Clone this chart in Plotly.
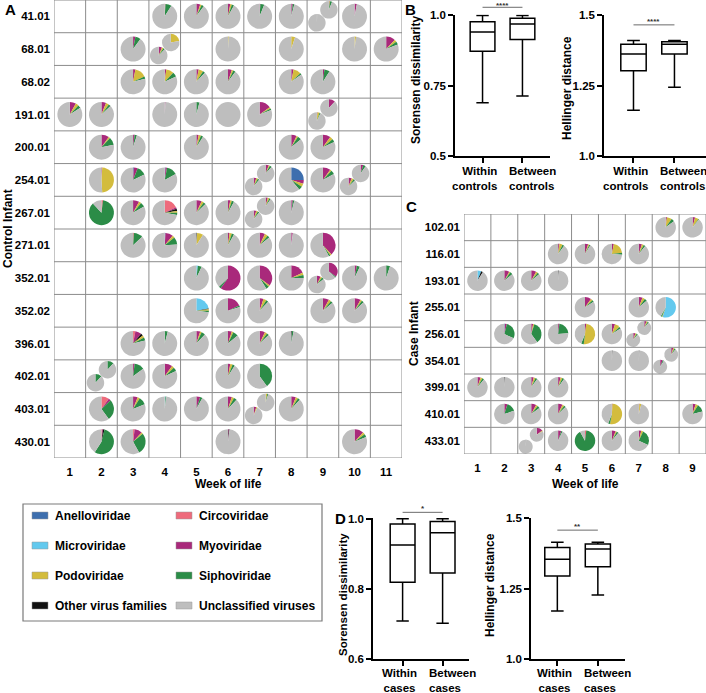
import plotly.graph_objects as go

W, H = 706, 693
FONT = "Liberation Sans, Arial, sans-serif"

# slice order inside every pie (clockwise from 12 o'clock)
FAMILIES = ["Anelloviridae", "Circoviridae", "Microviridae", "Myoviridae",
            "Other virus families", "Podoviridae", "Siphoviridae", "Unclassified viruses"]
FAMILY_KEYS = ["an", "ci", "mi", "my", "ot", "po", "si"]
FAMILY_COLORS = {
    "Anelloviridae": "#3e6fae",
    "Circoviridae": "#ee6b7c",
    "Microviridae": "#63c9ee",
    "Myoviridae": "#a9297b",
    "Other virus families": "#111111",
    "Podoviridae": "#d3bc3d",
    "Siphoviridae": "#2b8c47",
    "Unclassified viruses": "#bebebe",
}
LEGEND_ORDER = ["Anelloviridae", "Circoviridae", "Microviridae", "Myoviridae",
                "Podoviridae", "Siphoviridae", "Other virus families", "Unclassified viruses"]

control_infants = ["41.01", "68.01", "68.02", "191.01", "200.01", "254.01", "267.01",
                   "271.01", "352.01", "352.02", "396.01", "402.01", "403.01", "430.01"]
control_weeks = [1, 2, 3, 4, 5, 6, 7, 8, 9, 10, 11]
case_infants = ["102.01", "116.01", "193.01", "255.01", "256.01", "354.01",
                "399.01", "410.01", "433.01"]
case_weeks = [1, 2, 3, 4, 5, 6, 7, 8, 9]

# (infant, week, slot, % per family); the rest is unclassified
# slot: full = one sample, upper / lower = two samples in the same week
control_samples = [
    ("41.01", 4, "full", {"ci": 1, "si": 8}),
    ("41.01", 5, "full", {"my": 5, "po": 2, "si": 3}),
    ("41.01", 6, "full", {"my": 3, "po": 2, "si": 3}),
    ("41.01", 7, "full", {"my": 1, "si": 5}),
    ("41.01", 8, "full", {"my": 2, "si": 2}),
    ("41.01", 9, "upper", {"my": 1, "po": 1, "si": 4}),
    ("41.01", 9, "lower", {"ot": 0.5}),
    ("41.01", 10, "full", {"my": 3}),
    ("68.01", 3, "full", {"my": 3, "si": 7}),
    ("68.01", 4, "upper", {"po": 22}),
    ("68.01", 4, "lower", {"my": 6, "po": 3, "si": 3}),
    ("68.01", 6, "full", {"po": 1}),
    ("68.01", 8, "full", {"po": 5}),
    ("68.01", 10, "full", {"po": 2}),
    ("68.01", 11, "full", {"my": 12, "po": 3, "si": 4}),
    ("68.02", 3, "full", {"my": 3, "po": 15, "si": 3}),
    ("68.02", 4, "full", {"my": 2, "po": 10, "si": 6}),
    ("68.02", 5, "full", {"my": 3, "po": 6, "si": 3}),
    ("68.02", 6, "full", {"my": 5, "po": 2, "si": 3}),
    ("68.02", 8, "full", {"my": 3, "po": 10, "si": 2}),
    ("68.02", 9, "full", {"my": 2, "si": 7}),
    ("191.01", 1, "full", {"my": 8, "po": 4, "si": 4}),
    ("191.01", 2, "full", {"my": 6, "po": 4, "si": 3}),
    ("191.01", 4, "full", {"my": 1}),
    ("191.01", 5, "full", {"si": 4}),
    ("191.01", 6, "full", {}),
    ("191.01", 7, "full", {"my": 15, "po": 2, "si": 2}),
    ("191.01", 9, "upper", {"my": 12}),
    ("191.01", 9, "lower", {"my": 1, "po": 4, "si": 2}),
    ("200.01", 2, "full", {"my": 10, "po": 2, "si": 10}),
    ("200.01", 3, "full", {"my": 2, "si": 3}),
    ("200.01", 5, "full", {"my": 3, "po": 3, "si": 3}),
    ("200.01", 8, "full", {"my": 7, "po": 2, "si": 5}),
    ("200.01", 9, "full", {"my": 10, "po": 4, "si": 4}),
    ("254.01", 2, "full", {"my": 1, "po": 48}),
    ("254.01", 3, "full", {"an": 1, "my": 5, "si": 12}),
    ("254.01", 4, "full", {"an": 1, "my": 2, "si": 14}),
    ("254.01", 7, "upper", {"my": 6, "po": 2, "si": 4}),
    ("254.01", 7, "lower", {"my": 5, "po": 3, "si": 3}),
    ("254.01", 8, "full", {"an": 25, "my": 5, "po": 4, "si": 5}),
    ("254.01", 9, "full", {"my": 10, "po": 2, "si": 5}),
    ("254.01", 10, "upper", {"my": 5, "si": 5}),
    ("254.01", 10, "lower", {"my": 6, "po": 4, "si": 3}),
    ("267.01", 2, "full", {"ci": 2, "si": 86}),
    ("267.01", 3, "full", {"my": 8, "po": 3, "si": 6}),
    ("267.01", 4, "full", {"ci": 18, "my": 2, "ot": 3, "po": 2, "si": 3}),
    ("267.01", 5, "full", {"my": 7, "po": 3, "si": 3}),
    ("267.01", 6, "full", {"my": 3, "po": 2, "si": 3}),
    ("267.01", 7, "upper", {"my": 4, "po": 3, "si": 3}),
    ("267.01", 7, "lower", {"my": 5, "po": 3, "si": 3}),
    ("267.01", 8, "full", {"my": 2, "si": 2}),
    ("271.01", 3, "full", {"ci": 1, "si": 12}),
    ("271.01", 4, "full", {"an": 1, "my": 10, "po": 3, "si": 10}),
    ("271.01", 5, "full", {"ot": 1, "po": 8}),
    ("271.01", 6, "full", {"my": 2, "po": 3, "si": 3}),
    ("271.01", 7, "full", {"my": 7, "po": 4, "si": 3}),
    ("271.01", 8, "full", {"my": 2}),
    ("271.01", 9, "full", {"my": 38, "po": 2, "si": 2}),
    ("352.01", 5, "full", {"mi": 2, "si": 5}),
    ("352.01", 6, "full", {"my": 60, "si": 3}),
    ("352.01", 7, "full", {"my": 35, "po": 2, "si": 4}),
    ("352.01", 8, "full", {"my": 18, "po": 3, "si": 4}),
    ("352.01", 9, "upper", {"my": 35, "si": 2}),
    ("352.01", 9, "lower", {"my": 7, "po": 3, "si": 4}),
    ("352.01", 10, "full", {"my": 3, "si": 4}),
    ("352.01", 11, "full", {"si": 5}),
    ("352.02", 5, "full", {"mi": 22, "ot": 1, "po": 2, "si": 2}),
    ("352.02", 6, "full", {"my": 18, "si": 2}),
    ("352.02", 7, "full", {"my": 5, "po": 4, "si": 3}),
    ("352.02", 9, "full", {"my": 8, "po": 3, "si": 3}),
    ("352.02", 10, "full", {"my": 8, "po": 2, "si": 3}),
    ("396.01", 3, "full", {"ci": 3, "my": 8, "ot": 3, "po": 3, "si": 4}),
    ("396.01", 4, "full", {"si": 4}),
    ("396.01", 5, "full", {"my": 5, "po": 2, "si": 5}),
    ("396.01", 6, "full", {"my": 5, "po": 2, "si": 7}),
    ("396.01", 7, "full", {"my": 7, "po": 3, "si": 3}),
    ("396.01", 8, "full", {"ot": 1, "si": 2}),
    ("402.01", 2, "upper", {"si": 12}),
    ("402.01", 2, "lower", {"si": 12}),
    ("402.01", 3, "full", {"my": 2, "si": 13}),
    ("402.01", 4, "full", {"my": 10, "po": 3, "si": 5}),
    ("402.01", 6, "full", {"my": 3, "po": 3, "si": 3}),
    ("402.01", 7, "full", {"si": 40}),
    ("403.01", 2, "full", {"ci": 10, "my": 3, "si": 27}),
    ("403.01", 3, "full", {"my": 6, "po": 3, "si": 10}),
    ("403.01", 4, "full", {"mi": 1, "si": 1}),
    ("403.01", 5, "full", {"my": 5, "si": 3}),
    ("403.01", 6, "full", {"my": 5, "po": 3, "si": 4}),
    ("403.01", 7, "upper", {"po": 3, "si": 2}),
    ("403.01", 7, "lower", {"my": 5, "po": 2}),
    ("403.01", 8, "full", {"my": 6, "po": 3, "si": 3}),
    ("430.01", 2, "full", {"ci": 1, "my": 1, "ot": 2, "si": 55}),
    ("430.01", 3, "full", {"ci": 2, "my": 10, "po": 2, "si": 28}),
    ("430.01", 6, "full", {"my": 1, "ot": 1}),
    ("430.01", 10, "full", {"my": 12, "po": 3, "si": 4}),
]

case_samples = [
    ("102.01", 8, "full", {"my": 2, "po": 8, "si": 5}),
    ("102.01", 9, "full", {"my": 4, "po": 6, "si": 1}),
    ("116.01", 4, "full", {"my": 2, "po": 5, "si": 3}),
    ("116.01", 5, "full", {"my": 5, "po": 2, "si": 2}),
    ("116.01", 6, "full", {"my": 3, "po": 20, "si": 3}),
    ("116.01", 7, "full", {"my": 5, "po": 3, "si": 3}),
    ("193.01", 1, "full", {"mi": 6, "ot": 3}),
    ("193.01", 2, "full", {"my": 8, "po": 2, "si": 4}),
    ("193.01", 3, "full", {"my": 8, "po": 3, "si": 3}),
    ("193.01", 4, "full", {"ot": 1}),
    ("255.01", 5, "full", {"my": 10, "po": 3, "si": 3}),
    ("255.01", 7, "full", {"my": 6, "po": 4, "si": 4}),
    ("255.01", 8, "full", {"mi": 55, "po": 1, "si": 2}),
    ("256.01", 2, "full", {"an": 1, "my": 3, "si": 28}),
    ("256.01", 3, "full", {"my": 3, "po": 2, "si": 35}),
    ("256.01", 4, "full", {"my": 2, "si": 22}),
    ("256.01", 5, "full", {"my": 2, "po": 50, "si": 4}),
    ("256.01", 6, "full", {"my": 5, "po": 8, "si": 3}),
    ("256.01", 7, "upper", {"my": 5, "po": 3, "si": 3}),
    ("256.01", 7, "lower", {"my": 5, "po": 3, "si": 3}),
    ("354.01", 6, "full", {"ot": 1}),
    ("354.01", 7, "full", {"ot": 1}),
    ("354.01", 8, "upper", {"my": 5, "po": 3, "si": 3}),
    ("354.01", 8, "lower", {"my": 6, "si": 3}),
    ("399.01", 1, "full", {"my": 5, "po": 3, "si": 3}),
    ("399.01", 2, "full", {"ot": 1}),
    ("399.01", 3, "full", {"my": 4, "po": 3, "si": 3}),
    ("399.01", 4, "full", {"my": 4, "po": 3, "si": 3}),
    ("410.01", 2, "full", {"my": 5, "si": 15}),
    ("410.01", 3, "full", {"my": 8, "po": 3, "si": 4}),
    ("410.01", 4, "full", {"my": 7, "po": 3, "si": 3}),
    ("410.01", 6, "full", {"my": 1, "si": 3, "po": 52}),
    ("410.01", 7, "full", {"my": 1, "po": 3}),
    ("410.01", 9, "full", {"my": 5, "po": 4, "si": 12}),
    ("433.01", 3, "upper", {"my": 15, "po": 2}),
    ("433.01", 3, "lower", {"ot": 1}),
    ("433.01", 4, "full", {"my": 5, "si": 2}),
    ("433.01", 5, "full", {"ci": 2, "si": 90}),
    ("433.01", 6, "full", {"my": 6, "po": 2, "si": 3}),
    ("433.01", 7, "full", {"my": 4, "po": 3, "si": 25}),
]

# box plot summaries: lower whisker, Q1, median, Q3, upper whisker
control_groups = ["Within<br>controls", "Between<br>controls"]
case_groups = ["Within<br>cases", "Between<br>cases"]
sorensen_controls_within = [0.689, 0.873, 0.941, 0.978, 1.0]
sorensen_controls_between = [0.713, 0.914, 0.970, 0.990, 1.0]
hellinger_controls_within = [1.162, 1.302, 1.362, 1.396, 1.410]
hellinger_controls_between = [1.244, 1.362, 1.396, 1.405, 1.410]
sorensen_cases_within = [0.708, 0.819, 0.925, 0.985, 1.0]
sorensen_cases_between = [0.702, 0.845, 0.960, 0.992, 1.0]
hellinger_cases_within = [1.170, 1.294, 1.354, 1.395, 1.414]
hellinger_cases_between = [1.227, 1.327, 1.390, 1.408, 1.414]
significance = ["****", "****", "*", "**"]


def px(x):
    return x / W


def py(y):
    return 1 - y / H


fig = go.Figure()
shapes = []
annotations = []


def pie_grid(samples, infants, weeks, xa, ya, box_px, d_full, d_small, off):
    x0, x1, y0, y1 = box_px
    cw = (x1 - x0) / len(weeks)
    ch = (y1 - y0) / len(infants)
    for infant, week, slot, shares in samples:
        row = infants.index(infant)
        cx = x0 + (week - 0.5) * cw
        cy = y0 + (row + 0.5) * ch
        d = d_full
        if slot == "upper":
            d = d_small
            cx, cy = cx + off[0], cy - off[1]
        elif slot == "lower":
            d = d_small
            cx, cy = cx - off[0], cy + off[1]
        vals = [shares.get(k, 0) for k in FAMILY_KEYS]
        vals.append(100 - sum(vals))
        fig.add_trace(go.Pie(
            labels=FAMILIES, values=vals, sort=False, direction="clockwise",
            rotation=0, textinfo="none", showlegend=False,
            marker=dict(colors=[FAMILY_COLORS[f] for f in FAMILIES], line=dict(width=0)),
            domain=dict(x=[px(cx - d / 2), px(cx + d / 2)], y=[py(cy + d / 2), py(cy - d / 2)]),
            hovertemplate=infant + ", week " + str(week) + "<br>%{label}: %{percent}<extra></extra>",
        ))
    # cell borders
    for i in range(len(weeks) + 1):
        shapes.append(dict(type="line", xref=xa, yref=ya, x0=i + 0.5, x1=i + 0.5,
                           y0=-0.5, y1=len(infants) - 0.5, line=dict(color="#8c8c8c", width=1)))
    for j in range(len(infants) + 1):
        shapes.append(dict(type="line", xref=xa, yref=ya, x0=0.5, x1=len(weeks) + 0.5,
                           y0=j - 0.5, y1=j - 0.5, line=dict(color="#8c8c8c", width=1)))


grid_axis = dict(showgrid=False, zeroline=False, showline=False, ticks="", automargin=False,
                 tickfont=dict(size=11.5, color="black", family=FONT, weight="bold"))

# panel A
A_px = (54, 402, 0, 458)
pie_grid(control_samples, control_infants, control_weeks, "x", "y", A_px, 25, 17.5, (6, 6.5))
# panel C
C_px = (464, 706, 214, 454)
pie_grid(case_samples, case_infants, case_weeks, "x2", "y2", C_px, 20.5, 14, (5.5, 6))

layout_axes = {}
for n, (box, infants, weeks) in enumerate([(A_px, control_infants, control_weeks),
                                           (C_px, case_infants, case_weeks)], start=1):
    sfx = "" if n == 1 else str(n)
    layout_axes["xaxis" + sfx] = dict(
        grid_axis, domain=[px(box[0]), px(box[1])], range=[0.5, len(weeks) + 0.5],
        tickvals=weeks, ticktext=[str(w) for w in weeks], ticklabelstandoff=5,
        anchor="y" + sfx)
    layout_axes["yaxis" + sfx] = dict(
        grid_axis, domain=[py(box[3]), py(box[2])], range=[len(infants) - 0.5, -0.5],
        tickvals=list(range(len(infants))), ticktext=infants, ticklabelstandoff=3,
        anchor="x" + sfx)


def box_panel(n, groups, within, between, x_px, y_px, yrange, ytickvals, yticktext,
              xrange, sig_label, sig_val, star_val, label_y, first_align):
    xa, ya = "x" + str(n), "y" + str(n)
    fig.add_trace(go.Box(
        x=groups, lowerfence=[within[0], between[0]], q1=[within[1], between[1]],
        median=[within[2], between[2]], q3=[within[3], between[3]],
        upperfence=[within[4], between[4]], boxpoints=False, width=0.62,
        whiskerwidth=0.5, fillcolor="white", line=dict(color="black", width=1.5),
        showlegend=False, xaxis=xa, yaxis=ya, hoverinfo="y"))
    common = dict(showgrid=False, zeroline=False, showline=True, linecolor="black",
                  linewidth=1.5, ticks="outside", ticklen=5, tickwidth=1.5,
                  tickcolor="black", automargin=False,
                  tickfont=dict(size=11.5, color="black", family=FONT, weight="bold"))
    layout_axes["xaxis" + str(n)] = dict(common, domain=[px(x_px[0]), px(x_px[1])],
                                         anchor=ya, type="category", range=xrange,
                                         showticklabels=False)
    layout_axes["yaxis" + str(n)] = dict(common, domain=[py(y_px[1]), py(y_px[0])],
                                         anchor=xa, range=yrange, tickvals=ytickvals,
                                         ticktext=yticktext)
    # group names sit either side of the midpoint between the two boxes
    for g, anchor, align, shift in [(groups[0], "right", first_align, -4),
                                    (groups[1], "left", "left", 4)]:
        annotations.append(dict(text=g, xref=xa, yref="paper", x=0.5, y=py(label_y),
                                xshift=shift, xanchor=anchor, align=align, yanchor="middle",
                                showarrow=False,
                                font=dict(size=11.5, color="black", family=FONT,
                                          weight="bold")))
    span = yrange[1] - yrange[0]
    shapes.append(dict(type="line", xref=xa, yref=ya + " domain", x0=0, x1=1,
                       y0=(sig_val - yrange[0]) / span, y1=(sig_val - yrange[0]) / span,
                       line=dict(color="#6b6b6b", width=1)))
    annotations.append(dict(text=sig_label, xref=xa, yref=ya + " domain", x=0.5,
                            y=(star_val - yrange[0]) / span, showarrow=False,
                            yanchor="middle", font=dict(size=8, color="#333333")))


box_panel(3, control_groups, sorensen_controls_within, sorensen_controls_between,
          (455, 550), (14.6, 156), [0.5, 1.003], [0.5, 0.75, 1.0], ["0.5", "0.75", "1.0"],
          [-0.69, 1.69], significance[0], 1.029, 1.036, 178.5, "right")
box_panel(4, control_groups, hellinger_controls_within, hellinger_controls_between,
          (604, 706), (15, 156), [1.0, 1.5], [1.0, 1.25, 1.5], ["1.0", "1.25", "1.5"],
          [-0.72, 1.77], significance[1], 1.465, 1.476, 178.5, "right")
box_panel(5, case_groups, sorensen_cases_within, sorensen_cases_between,
          (373, 469), (517.6, 659), [0.6, 1.003], [0.6, 0.8, 1.0], ["0.6", "0.8", "1.0"],
          [-0.74, 1.66], significance[2], 1.018, 1.029, 680.5, "center")
box_panel(6, case_groups, hellinger_cases_within, hellinger_cases_between,
          (531, 625), (518, 659), [1.0, 1.5], [1.0, 1.25, 1.5], ["1.0", "1.25", "1.5"],
          [-0.65, 1.67], significance[3], 1.457, 1.471, 680.5, "center")


def label(text, x, y, size=12, angle=0, xanchor="center"):
    annotations.append(dict(text=text, xref="paper", yref="paper", x=px(x), y=py(y),
                            showarrow=False, textangle=angle, xanchor=xanchor,
                            yanchor="middle",
                            font=dict(size=size, color="black", family=FONT, weight="bold")))


label("A", 3, 9, 15, xanchor="left")
label("B", 403, 9, 15, xanchor="left")
label("C", 404, 206, 15, xanchor="left")
label("D", 333, 518, 15, xanchor="left")
label("Control Infant", 8, 229, 12, -90)
label("Case Infant", 414, 334, 12, -90)
label("Week of life", 228, 484)
label("Week of life", 585, 484)
label("Sorensen dissimilarity", 416, 80, 12, -90)
label("Hellinger distance", 567, 88, 12, -90)
label("Sorensen dissimilarity", 343, 595, 11.5, -90)
label("Hellinger distance", 490, 585, 12, -90)

# legend box
shapes.append(dict(type="rect", xref="paper", yref="paper", x0=px(23), x1=px(322),
                   y0=py(621), y1=py(504), line=dict(color="#7a7a7a", width=1.2)))
for i, fam in enumerate(LEGEND_ORDER):
    col, row = i % 2, i // 2
    sx = 32 + col * 144
    sy = 515.5 + row * 30
    shapes.append(dict(type="rect", xref="paper", yref="paper", x0=px(sx), x1=px(sx + 16),
                       y0=py(sy + 3.5), y1=py(sy - 3.5), fillcolor=FAMILY_COLORS[fam],
                       line=dict(color="#999999", width=0.5)))
    label(fam, sx + 21, sy, 12, xanchor="left")

fig.update_layout(
    width=W, height=H, margin=dict(l=0, r=0, t=0, b=0, autoexpand=False),
    paper_bgcolor="white", plot_bgcolor="white",
    font=dict(family=FONT, color="black", weight="bold"),
    shapes=shapes, annotations=annotations, showlegend=False,
    **layout_axes,
)

# drop the default page margin so the figure fills the window
fig.write_html("out.html", config={"displayModeBar": False},
               post_script="document.body.style.margin = '0';")
